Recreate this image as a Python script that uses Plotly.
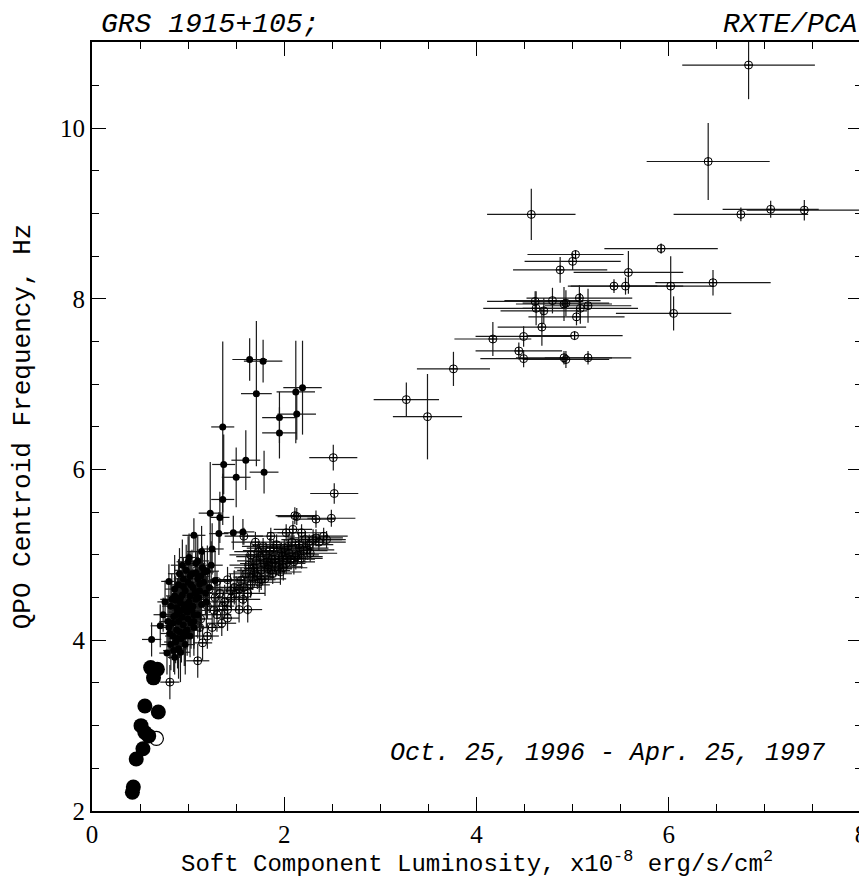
import plotly.graph_objects as go

# ---------------- data ----------------
# Filled small dots (with error bars)
fill_x = [1.64, 1.78, 1.71, 2.12, 2.19, 1.95, 2.13, 1.95, 1.36, 1.37, 1.60, 1.50, 1.79, 1.36,
          1.23, 1.33, 1.32, 1.47, 1.57, 1.06, 1.25, 1.14, 1.10, 1.20, 0.80, 1.08, 0.74, 0.71, 0.62,
          0.78, 0.82, 0.86, 0.90, 0.84, 0.80, 0.88, 0.93, 0.97, 1.02, 0.85, 0.90, 0.95, 1.00, 1.06,
          0.82, 0.88, 0.93, 0.98, 1.04, 1.10, 0.86, 0.92, 0.97, 1.02, 1.08, 1.14, 0.90, 0.95, 1.00,
          1.05, 1.12, 1.18, 0.98, 1.04, 1.10, 1.16, 1.22, 0.76, 1.08, 0.94, 1.15, 1.00, 1.01,
          0.81, 0.84, 0.87, 0.89, 0.91, 0.94, 0.96, 0.99, 1.01, 1.03, 1.05, 1.07, 0.83, 0.86,
          0.89, 0.92, 0.95, 0.97, 1.00, 1.03, 1.06, 1.09, 1.12, 0.88, 0.91, 0.96, 1.13, 1.19,
          1.24, 1.28, 0.79, 0.85, 0.92, 0.99, 1.06, 0.87, 0.94, 1.02, 1.11, 1.17]
fill_y = [7.29, 7.27, 6.89, 6.91, 6.96, 6.61, 6.65, 6.43, 6.50, 6.06, 6.11, 5.91, 5.97, 5.65,
          5.49, 5.44, 5.25, 5.26, 5.27, 5.23, 5.07, 5.04, 4.93, 4.81, 4.69, 4.79, 4.30, 4.17, 4.01,
          3.85, 3.95, 3.80, 3.90, 4.05, 4.15, 4.12, 4.02, 3.95, 4.05, 4.28, 4.22, 4.18, 4.25, 4.15,
          4.40, 4.38, 4.35, 4.42, 4.35, 4.30, 4.52, 4.50, 4.58, 4.52, 4.48, 4.42, 4.65, 4.72, 4.68,
          4.62, 4.58, 4.55, 4.82, 4.78, 4.72, 4.68, 4.62, 4.45, 4.90, 4.88, 4.85, 4.92, 4.97,
          4.08, 4.20, 3.98, 4.33, 4.10, 4.27, 4.40, 4.33, 4.45, 4.20, 4.40, 4.55, 4.48, 4.60,
          4.02, 4.44, 4.63, 4.10, 4.38, 4.65, 4.30, 4.57, 4.66, 4.30, 4.78, 4.05, 4.75, 4.45,
          4.88, 4.70, 4.22, 3.88, 3.86, 4.12, 4.22, 4.47, 4.53, 4.75, 4.50, 4.80]
fill_xerr = [0.18, 0.20, 0.16, 0.20, 0.20, 0.18, 0.20, 0.18, 0.12, 0.12, 0.15, 0.15, 0.15, 0.12,
             0.12, 0.10, 0.10, 0.10, 0.12, 0.12, 0.12, 0.15, 0.12, 0.12, 0.08, 0.10, 0.10, 0.10, 0.10,
             0.08, 0.10, 0.07, 0.09, 0.08, 0.10, 0.07, 0.09, 0.10, 0.08, 0.09, 0.11, 0.08, 0.10, 0.12,
             0.09, 0.07, 0.10, 0.12, 0.08, 0.10, 0.09, 0.11, 0.08, 0.12, 0.10, 0.09, 0.08, 0.10, 0.12,
             0.09, 0.11, 0.10, 0.12, 0.09, 0.10, 0.11, 0.12, 0.08, 0.10, 0.12, 0.10, 0.12, 0.10,
             0.10, 0.08, 0.12, 0.09, 0.11, 0.10, 0.08, 0.12, 0.09, 0.10, 0.11, 0.08, 0.12, 0.10,
             0.09, 0.11, 0.10, 0.08, 0.12, 0.09, 0.10, 0.11, 0.08, 0.10, 0.12, 0.09, 0.10, 0.11,
             0.12, 0.10, 0.09, 0.11, 0.10, 0.12, 0.08, 0.10, 0.11, 0.09, 0.12, 0.10]
fill_yerr = [0.25, 0.25, 0.85, 0.60, 0.55, 0.30, 0.30, 0.30, 1.00, 0.35, 0.35, 0.35, 0.25, 0.30,
             0.60, 0.30, 0.25, 0.20, 0.15, 0.20, 0.30, 0.30, 0.30, 0.30, 0.20, 0.25, 0.20, 0.25, 0.20,
             0.25, 0.30, 0.20, 0.35, 0.25, 0.30, 0.22, 0.28, 0.35, 0.25, 0.30, 0.20, 0.35, 0.28, 0.25,
             0.30, 0.22, 0.35, 0.25, 0.30, 0.28, 0.35, 0.22, 0.30, 0.25, 0.35, 0.28, 0.30, 0.25, 0.35,
             0.22, 0.30, 0.25, 0.30, 0.28, 0.35, 0.22, 0.30, 0.25, 0.35, 0.30, 0.25, 0.30, 0.28,
             0.30, 0.35, 0.25, 0.40, 0.30, 0.35, 0.28, 0.32, 0.38, 0.30, 0.35, 0.25, 0.30, 0.40,
             0.35, 0.28, 0.32, 0.40, 0.30, 0.25, 0.35, 0.30, 0.28, 0.38, 0.30, 0.35, 0.25, 0.30,
             0.28, 0.35, 0.30, 0.25, 0.35, 0.30, 0.40, 0.28, 0.32, 0.30, 0.35, 0.25]

# Open circles with cross (with error bars)
open_x = [6.83, 6.41, 6.75, 7.06, 7.41, 4.57, 5.92, 5.03, 5.00, 4.87, 5.58, 5.43, 5.55, 6.02,
          6.46, 6.05, 4.61, 4.62, 4.70, 4.79, 4.91, 4.93, 5.07, 5.08, 5.04, 5.16, 4.68, 4.17,
          4.49, 5.02, 4.44, 4.49, 4.91, 4.93, 5.16, 3.76, 3.27, 3.49,
          2.51, 2.52, 2.11, 2.13, 2.33, 2.49, 2.41, 2.44, 1.58, 1.86, 2.02, 2.09, 2.18,
          1.70, 1.78, 1.85, 1.92, 2.00, 2.08, 2.15, 2.22, 2.30, 2.36, 1.65, 1.75, 1.82, 1.90,
          1.98, 2.05, 2.12, 2.20, 1.68, 1.76, 1.84, 1.94, 2.02, 2.10, 1.72, 1.80, 1.88, 1.96,
          1.60, 1.65, 1.76, 1.55, 1.48, 1.41, 1.53, 1.30, 1.62, 1.45, 1.38, 1.41, 1.53, 1.62,
          1.41, 1.13, 1.30, 1.20, 1.15, 1.25, 1.35, 1.10, 0.81, 1.20, 1.28, 1.18, 1.12, 1.05,
          1.73, 1.81, 1.89, 1.97, 2.04, 2.16, 2.26, 2.33, 1.71, 1.79, 1.87, 1.95, 2.03, 2.14,
          2.24, 1.63, 1.69, 1.83, 1.91, 2.07, 1.58, 1.67, 1.74, 1.86, 1.99, 2.18, 2.27, 1.50,
          1.57, 1.44, 1.36, 1.27, 1.33, 1.22]
open_y = [10.74, 9.61, 8.99, 9.05, 9.04, 8.99, 8.59, 8.52, 8.44, 8.34, 8.31, 8.15, 8.15, 8.15,
          8.19, 7.83, 7.97, 7.89, 7.86, 7.98, 7.94, 7.95, 8.01, 7.89, 7.79, 7.92, 7.67, 7.53,
          7.56, 7.57, 7.39, 7.30, 7.31, 7.29, 7.31, 7.18, 6.82, 6.62,
          6.14, 5.72, 5.46, 5.45, 5.42, 5.43, 5.22, 5.18, 5.22, 5.22, 5.26, 5.30, 5.26,
          5.15, 5.10, 5.05, 5.12, 5.08, 5.15, 5.12, 5.18, 5.18, 5.15, 5.00, 4.98, 4.92, 4.95,
          4.98, 5.02, 4.98, 5.05, 4.85, 4.82, 4.88, 4.86, 4.90, 4.92, 4.75, 4.72, 4.78, 4.80,
          4.78, 4.65, 4.71, 4.70, 4.62, 4.71, 4.60, 4.69, 4.55, 4.50, 4.45, 4.36, 4.36, 4.36,
          4.26, 4.25, 4.30, 4.05, 3.97, 4.15, 4.20, 3.76, 3.51, 4.40, 4.50, 4.55, 4.15, 4.45,
          5.04, 5.00, 5.08, 5.03, 5.10, 5.08, 5.12, 5.20, 4.93, 4.90, 4.95, 4.92, 4.96, 5.00,
          5.06, 4.88, 4.80, 4.84, 4.90, 4.95, 4.62, 4.74, 4.68, 4.82, 4.85, 4.96, 5.02, 4.55,
          4.48, 4.58, 4.40, 4.35, 4.55, 4.60]
open_xerr = [0.69, 0.64, 0.70, 0.50, 0.60, 0.46, 0.59, 0.50, 0.50, 0.49, 0.57, 0.45, 0.60, 0.45,
             0.60, 0.60, 0.50, 0.55, 0.45, 0.50, 0.50, 0.45, 0.55, 0.60, 0.50, 0.45, 0.46, 0.40,
             0.50, 0.50, 0.45, 0.45, 0.50, 0.45, 0.45, 0.38, 0.34, 0.36,
             0.25, 0.25, 0.20, 0.20, 0.20, 0.25, 0.25, 0.20, 0.20, 0.25, 0.20, 0.20, 0.25,
             0.25, 0.22, 0.28, 0.25, 0.30, 0.22, 0.28, 0.25, 0.30, 0.28, 0.22, 0.25, 0.20, 0.28,
             0.25, 0.22, 0.28, 0.25, 0.20, 0.25, 0.22, 0.25, 0.20, 0.22, 0.18, 0.22, 0.20, 0.22,
             0.18, 0.20, 0.15, 0.18, 0.15, 0.18, 0.15, 0.15, 0.18, 0.15, 0.12, 0.12, 0.15, 0.15,
             0.12, 0.12, 0.15, 0.12, 0.10, 0.12, 0.15, 0.12, 0.10, 0.12, 0.15, 0.12, 0.10, 0.12,
             0.25, 0.22, 0.28, 0.25, 0.22, 0.30, 0.25, 0.28, 0.20, 0.25, 0.22, 0.28, 0.25, 0.22,
             0.28, 0.20, 0.22, 0.25, 0.20, 0.25, 0.18, 0.20, 0.22, 0.20, 0.25, 0.22, 0.28, 0.15,
             0.18, 0.15, 0.12, 0.15, 0.12, 0.15]
open_yerr = [0.40, 0.45, 0.08, 0.10, 0.12, 0.30, 0.06, 0.05, 0.10, 0.15, 0.25, 0.08, 0.10, 0.35,
             0.15, 0.20, 0.12, 0.20, 0.15, 0.15, 0.20, 0.15, 0.15, 0.18, 0.10, 0.20, 0.22, 0.20,
             0.12, 0.05, 0.10, 0.10, 0.08, 0.10, 0.08, 0.20, 0.20, 0.50,
             0.15, 0.12, 0.10, 0.10, 0.10, 0.10, 0.10, 0.10, 0.10, 0.10, 0.10, 0.10, 0.10,
             0.12, 0.10, 0.15, 0.12, 0.10, 0.12, 0.15, 0.10, 0.12, 0.10, 0.15, 0.12, 0.10, 0.15,
             0.12, 0.10, 0.15, 0.12, 0.15, 0.12, 0.15, 0.10, 0.12, 0.15, 0.15, 0.20, 0.12, 0.15,
             0.20, 0.15, 0.12, 0.15, 0.20, 0.15, 0.15, 0.12, 0.25, 0.15, 0.20, 0.12, 0.15, 0.15,
             0.15, 0.15, 0.20, 0.15, 0.20, 0.15, 0.15, 0.20, 0.20, 0.15, 0.20, 0.15, 0.15, 0.20,
             0.12, 0.15, 0.10, 0.12, 0.15, 0.10, 0.12, 0.10, 0.15, 0.12, 0.10, 0.15, 0.12, 0.10,
             0.12, 0.15, 0.12, 0.10, 0.15, 0.12, 0.20, 0.15, 0.12, 0.10, 0.15, 0.12, 0.10, 0.20,
             0.15, 0.20, 0.15, 0.20, 0.15, 0.20]

# Big filled dots (no error bars)
big_x = [0.61, 0.68, 0.64, 0.55, 0.69, 0.51, 0.55, 0.59, 0.53, 0.46, 0.43, 0.42]
big_y = [3.68, 3.66, 3.56, 3.23, 3.16, 3.00, 2.92, 2.88, 2.73, 2.61, 2.28, 2.22]

# Big open circle
bigopen_x = [0.67]
bigopen_y = [2.85]

# Axis ticks
x_ticks = [0, 2, 4, 6, 8]
y_ticks = [2, 4, 6, 8, 10]

# ---------------- figure ----------------
ERR = "#1a1a1a"
fig = go.Figure()

fig.add_trace(go.Scatter(
    x=open_x, y=open_y, mode="markers",
    marker=dict(symbol="circle-cross-open", size=8, color="black", line=dict(width=1, color="black")),
    error_x=dict(type="data", array=open_xerr, width=0, thickness=1.2, color=ERR),
    error_y=dict(type="data", array=open_yerr, width=0, thickness=1.2, color=ERR),
    showlegend=False))

fig.add_trace(go.Scatter(
    x=fill_x, y=fill_y, mode="markers",
    marker=dict(symbol="circle", size=7, color="black"),
    error_x=dict(type="data", array=fill_xerr, width=0, thickness=1.2, color=ERR),
    error_y=dict(type="data", array=fill_yerr, width=0, thickness=1.2, color=ERR),
    showlegend=False))

fig.add_trace(go.Scatter(
    x=big_x, y=big_y, mode="markers",
    marker=dict(symbol="circle", size=15, color="black"),
    showlegend=False))

fig.add_trace(go.Scatter(
    x=bigopen_x, y=bigopen_y, mode="markers",
    marker=dict(symbol="circle-open", size=14, color="black", line=dict(width=1.2)),
    showlegend=False))

FONT = "Liberation Mono"
TICKFONT = dict(family="Liberation Serif", size=25, color="black")

fig.update_xaxes(
    range=[0, 8.01], tickvals=x_ticks, ticktext=[str(v) for v in x_ticks],
    ticks="inside", ticklen=14, tickwidth=1.2, tickcolor="black",
    minor=dict(dtick=0.5, ticks="inside", ticklen=7, tickwidth=1.2, tickcolor="black"),
    showline=True, linecolor="black", linewidth=2, mirror="allticks",
    showgrid=False, zeroline=False, tickfont=TICKFONT, automargin=False,
    ticklabeloverflow="allow",
    title=dict(text="Soft Component Luminosity, x10<sup>-8</sup> erg/s/cm<sup>2</sup>",
               font=dict(family=FONT, size=24, color="black"), standoff=3))

fig.update_yaxes(
    range=[2, 11.01], tickvals=y_ticks, ticktext=[str(v) for v in y_ticks],
    ticks="inside", ticklen=14, tickwidth=1.2, tickcolor="black",
    minor=dict(dtick=0.5, ticks="inside", ticklen=7, tickwidth=1.2, tickcolor="black"),
    showline=True, linecolor="black", linewidth=2, mirror="allticks",
    showgrid=False, zeroline=False, tickfont=TICKFONT, automargin=False,
    ticklabeloverflow="allow",
    title=dict(text="QPO Centroid Frequency, Hz",
               font=dict(family=FONT, size=26, color="black"), standoff=23))

fig.update_layout(
    width=859, height=870,
    margin=dict(l=84, r=5, t=34, b=67, autoexpand=False),
    plot_bgcolor="white", paper_bgcolor="white",
    annotations=[
        dict(text="GRS 1915+105;", xref="paper", yref="paper", x=0.0, xshift=8, y=1.0, yshift=34,
             xanchor="left", yanchor="top", showarrow=False, borderpad=0,
             font=dict(family=FONT, size=28, color="black", style="italic")),
        dict(text="RXTE/PCA", xref="paper", yref="paper", x=1.0, xshift=-4, y=1.0, yshift=34,
             xanchor="right", yanchor="top", showarrow=False, borderpad=0,
             font=dict(family=FONT, size=28, color="black", style="italic")),
        dict(text="Oct. 25, 1996 - Apr. 25, 1997", xref="paper", yref="paper", x=0.955, y=0.075,
             xanchor="right", yanchor="middle", showarrow=False,
             font=dict(family=FONT, size=25, color="black", style="italic")),
    ])

fig.write_html("out.html")
